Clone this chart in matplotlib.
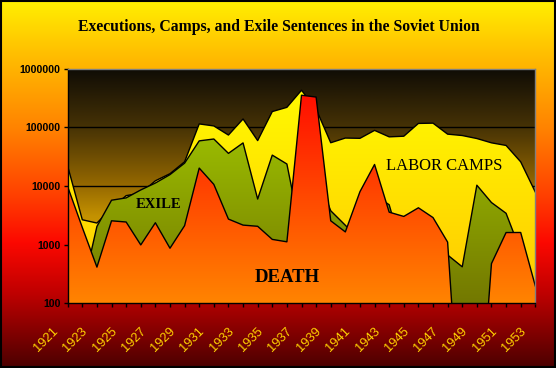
import numpy as np
import matplotlib
matplotlib.use('Agg')
import matplotlib.pyplot as plt
from matplotlib.colors import LinearSegmentedColormap
from matplotlib.patches import Rectangle
from matplotlib.transforms import ScaledTranslation

# data: sentences per year
years = list(range(1921, 1954))
death = [9701, 1962, 414, 2550, 2433, 990, 2363, 869, 2109,
         20201, 10651, 2728, 2154, 2056, 1229, 1118,
         353074, 328618,
         2552, 1649, 8001, 23278, 3579, 3029, 4252, 2896, 1105,
         0, 0, 475, 1609, 1612, 198]
camps = [21724, 2656, 2336, 4151, 6851, 7547, 12267, 16211, 25853,
         114443, 105683, 73946, 138903, 59451, 185846, 219418,
         429311, 205509,
         54666, 65727, 65000, 88809, 68887, 70610, 116681, 117943, 76581,
         72552, 64509, 54466, 49142, 25824, 7894]
exile = [1817, 166, 2044, 5724, 6274, 8571, 11235, 15640, 24517,
         58816, 63269, 36017, 54262, 5994, 33601, 23719,
         1366, 16842,
         3783, 2142, 1200, 7070, 4787, 649, 1647, 1498, 666,
         419, 10316, 5225, 3425, 773, 38]
ytick_vals = [100, 1000, 10000, 100000, 1000000]


def rgb(*c):
    return tuple(v / 255 for v in c)


def cmap_from(stops):
    return LinearSegmentedColormap.from_list('g', [(p, rgb(*c)) for p, c in stops])


fig = plt.figure(figsize=(5.56, 3.68), dpi=100)

# figure background gradient
bg = fig.add_axes([0, 0, 1, 1], zorder=0)
bg.axis('off')
fig_cmap = cmap_from([(0.0, (255, 240, 0)), (0.14, (255, 192, 0)),
                      (0.35, (255, 130, 0)), (0.54, (255, 60, 0)),
                      (0.66, (252, 8, 0)), (0.80, (190, 0, 0)),
                      (1.0, (75, 0, 0))])
bg.imshow(np.linspace(0, 1, 256)[:, None], aspect='auto', cmap=fig_cmap,
          extent=[0, 1, 0, 1], origin='upper')
bg.set_xlim(0, 1)
bg.set_ylim(0, 1)
bg.add_patch(Rectangle((0.001, 0.002), 0.997, 0.995, fill=False,
                       edgecolor='black', lw=1.5, transform=bg.transAxes))

ax = fig.add_axes([67.7 / 556, 64.7 / 368, 467.6 / 556, 234.6 / 368], zorder=1)
ax.set_yscale('log')
ax.set_xlim(years[0], years[-1])
ax.set_ylim(ytick_vals[0], ytick_vals[-1])
ax.set_autoscale_on(False)
ax.patch.set_visible(False)

# plot area gradient
area_cmap = cmap_from([(0.0, (240, 185, 0)), (0.37, (195, 145, 0)),
                       (0.5, (150, 105, 0)), (0.75, (70, 50, 5)),
                       (1.0, (15, 12, 5))])
ax.imshow(np.linspace(0, 1, 256)[:, None], aspect='auto', cmap=area_cmap,
          extent=[0, 1, 0, 1], transform=ax.transAxes, origin='lower', zorder=0.1)


def gradient_area(vals, top_c, bot_c, z):
    v = np.array(vals, dtype=float)
    v = np.where(v > 0, v, 0.2)  # zeros drop off the log axis like Excel does
    poly = ax.fill_between(years, v, 1, facecolor='none', edgecolor='none', zorder=z)
    cm = cmap_from([(0.0, bot_c), (1.0, top_c)])
    im = ax.imshow(np.linspace(0, 1, 256)[:, None], aspect='auto', cmap=cm,
                   extent=[0, 1, 0, 1], transform=ax.transAxes, origin='lower', zorder=z)
    im.set_clip_path(poly.get_paths()[0], ax.transData)
    ax.plot(years, v, color='black', lw=1.0, zorder=z + 0.05)


gradient_area(camps, (255, 255, 0), (255, 200, 0), 1.1)
gradient_area(exile, (170, 215, 0), (115, 120, 0), 1.2)
gradient_area(death, (255, 0, 0), (255, 132, 0), 1.3)

# grid and axes
ax.set_axisbelow(True)
ax.yaxis.grid(True, which='major', color='black', lw=1.0)
ax.yaxis.set_minor_locator(matplotlib.ticker.NullLocator())
ax.set_yticks(ytick_vals)
ax.set_yticklabels([str(v) for v in ytick_vals], fontfamily='Liberation Sans',
                   fontweight='bold', fontsize=7.6, color='black')
ax.set_xticks(years)
ax.set_xticklabels([str(y) if (y - years[0]) % 2 == 0 else '' for y in years],
                   fontfamily='Liberation Sans', fontsize=9.3, color='#FFD200',
                   rotation=45, ha='right', va='top')
ax.tick_params(axis='both', direction='out', length=3, width=1, color='black', pad=2)
off = ScaledTranslation(-0.07, -0.15, fig.dpi_scale_trans)
for lab in ax.get_xticklabels():
    lab.set_transform(lab.get_transform() + off)
for s in ['left', 'bottom']:
    ax.spines[s].set_color('black')
    ax.spines[s].set_linewidth(1)
    ax.spines[s].set_zorder(3)
for s in ['top', 'right']:
    ax.spines[s].set_color('#808080')
    ax.spines[s].set_linewidth(1)
    ax.spines[s].set_zorder(3)

# labels inside chart
fig.text(159 / 556, 1 - 205 / 368, 'EXILE', family='Liberation Serif',
         fontweight='bold', fontsize=10.5, ha='center', va='center', zorder=5)
fig.text(444.5 / 556, 1 - 166 / 368, 'LABOR CAMPS', family='Liberation Serif',
         fontsize=12, ha='center', va='center', zorder=5)
fig.text(287.7 / 556, 1 - 278 / 368, 'DEATH', family='Liberation Serif',
         fontweight='bold', fontsize=13.5, ha='center', va='center', zorder=5)
fig.text(279 / 556, 1 - 27 / 368,
         'Executions, Camps, and Exile Sentences in the Soviet Union',
         family='Liberation Serif', fontweight='bold', fontsize=11.3,
         ha='center', va='center', zorder=5)

fig.savefig('out.png', dpi=100)
